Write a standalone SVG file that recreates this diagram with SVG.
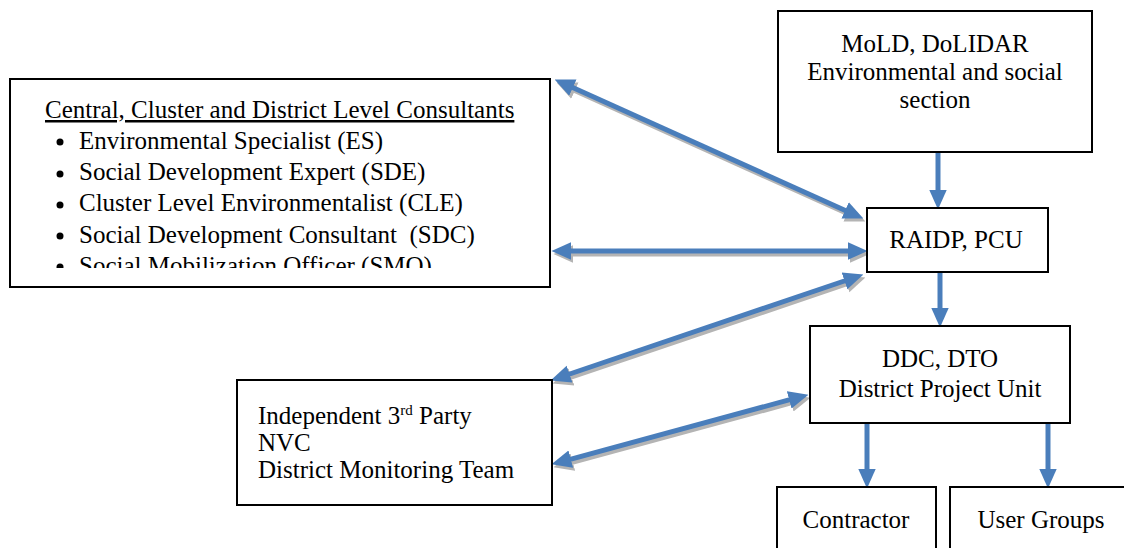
<svg xmlns="http://www.w3.org/2000/svg" width="1124" height="548" viewBox="0 0 1124 548">
<style>
.box{fill:#fff;stroke:#000;stroke-width:2}
text{font-family:"Liberation Serif","Times New Roman",serif;font-size:25px;fill:#000}
.c{text-anchor:middle}
.arr{stroke:#4A7EBB;stroke-width:5;fill:none}
.sh{stroke:#B4B4B4;stroke-width:5;fill:none}
</style>
<defs>
<marker id="ah" markerUnits="userSpaceOnUse" markerWidth="20" markerHeight="20" viewBox="0 -9 18 18" refX="4" refY="0" orient="auto-start-reverse"><path d="M0,-8 L18,0 L0,8 z" fill="#4A7EBB"/></marker>
<marker id="ahs" markerUnits="userSpaceOnUse" markerWidth="20" markerHeight="20" viewBox="0 -9 18 18" refX="4" refY="0" orient="auto-start-reverse"><path d="M0,-8 L18,0 L0,8 z" fill="#B4B4B4"/></marker>
<clipPath id="clipL"><rect x="10" y="79" width="540" height="189"/></clipPath>
</defs>

<g id="connectors">
<g transform="translate(2,3)">
<line class="sh" x1="568.8" y1="85.8" x2="849.2" y2="212.2" marker-start="url(#ahs)" marker-end="url(#ahs)"/>
<line class="sh" x1="567" y1="251" x2="852" y2="251" marker-start="url(#ahs)" marker-end="url(#ahs)"/>
<line class="sh" x1="565.3" y1="375.5" x2="848.7" y2="279.5" marker-start="url(#ahs)" marker-end="url(#ahs)"/>
<line class="sh" x1="566.5" y1="460.3" x2="793.5" y2="398.7" marker-start="url(#ahs)" marker-end="url(#ahs)"/>
</g>
<line class="arr" x1="568.8" y1="85.8" x2="849.2" y2="212.2" marker-start="url(#ah)" marker-end="url(#ah)"/>
<line class="arr" x1="567" y1="251" x2="852" y2="251" marker-start="url(#ah)" marker-end="url(#ah)"/>
<line class="arr" x1="565.3" y1="375.5" x2="848.7" y2="279.5" marker-start="url(#ah)" marker-end="url(#ah)"/>
<line class="arr" x1="566.5" y1="460.3" x2="793.5" y2="398.7" marker-start="url(#ah)" marker-end="url(#ah)"/>
<line class="arr" x1="938" y1="150" x2="938" y2="194" marker-end="url(#ah)"/>
<line class="arr" x1="940" y1="272" x2="940" y2="312" marker-end="url(#ah)"/>
<line class="arr" x1="867" y1="423" x2="867" y2="473" marker-end="url(#ah)"/>
<line class="arr" x1="1048" y1="423" x2="1048" y2="473" marker-end="url(#ah)"/>
</g>

<g id="consultants">
<rect class="box" x="10" y="79" width="540" height="208"/>
<g clip-path="url(#clipL)">
<text x="45" y="118" text-decoration="underline">Central, Cluster and District Level Consultants</text>
<circle cx="60" cy="142" r="3.5"/>
<text x="79" y="149">Environmental Specialist (ES)</text>
<circle cx="60" cy="174" r="3.5"/>
<text x="79" y="180">Social Development Expert (SDE)</text>
<circle cx="60" cy="205" r="3.5"/>
<text x="79" y="211">Cluster Level Environmentalist (CLE)</text>
<circle cx="60" cy="236" r="3.5"/>
<text x="79" y="243" xml:space="preserve">Social Development Consultant  (SDC)</text>
<circle cx="60" cy="267" r="3.5"/>
<text x="79" y="274">Social Mobilization Officer (SMO)</text>
</g>
</g>

<g id="mold">
<rect class="box" x="778" y="11" width="314" height="141"/>
<text class="c" x="935" y="52">MoLD, DoLIDAR</text>
<text class="c" x="935" y="80">Environmental and social</text>
<text class="c" x="935" y="108">section</text>
</g>

<g id="raidp">
<rect class="box" x="867" y="208" width="181" height="64"/>
<text class="c" x="956" y="248">RAIDP, PCU</text>
</g>

<g id="ddc">
<rect class="box" x="810" y="326" width="260" height="97"/>
<text class="c" x="940" y="367">DDC, DTO</text>
<text class="c" x="940" y="397">District Project Unit</text>
</g>

<g id="independent">
<rect class="box" x="237" y="380" width="315" height="125"/>
<text x="258" y="424">Independent 3<tspan font-size="15" dy="-9">rd</tspan><tspan dy="9"> Party</tspan></text>
<text x="258" y="451">NVC</text>
<text x="258" y="478">District Monitoring Team</text>
</g>

<g id="contractor">
<rect class="box" x="777" y="487" width="159" height="70"/>
<text class="c" x="856" y="528">Contractor</text>
</g>

<g id="usergroups">
<rect class="box" x="950" y="487" width="180" height="70"/>
<text class="c" x="1041" y="528">User Groups</text>
</g>
</svg>
